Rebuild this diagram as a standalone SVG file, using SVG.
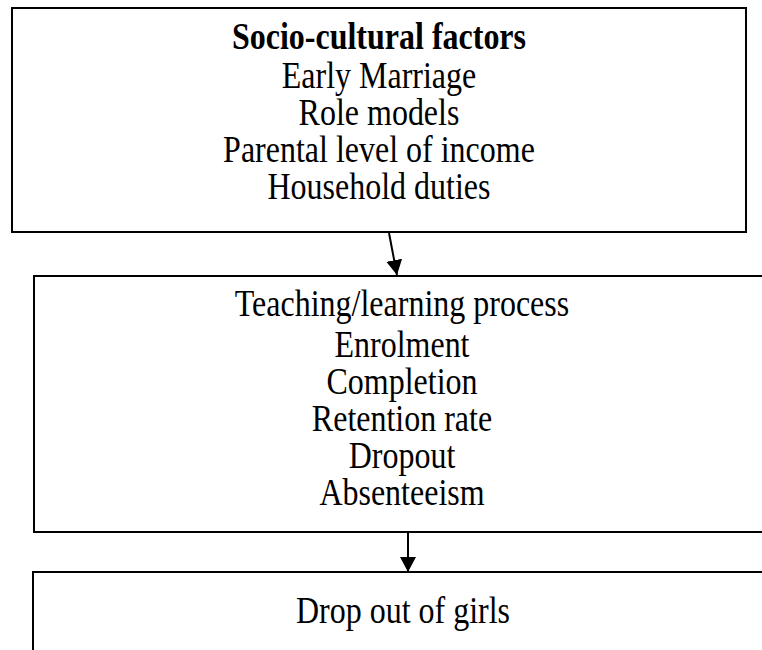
<svg xmlns="http://www.w3.org/2000/svg" width="762" height="650" viewBox="0 0 762 650">
  <style>
    .box { fill: #ffffff; stroke: #000000; stroke-width: 2; }
    .t { font-family: "Liberation Serif", "Times New Roman", serif; font-size: 32px; fill: #000000; text-anchor: middle; }
    .b { font-weight: bold; }
    .conn { stroke: #000000; stroke-width: 2; fill: none; marker-end: url(#arrow); }
  </style>
  <defs>
    <marker id="arrow" viewBox="0 0 15 16" refX="15" refY="8" markerWidth="15" markerHeight="16" markerUnits="userSpaceOnUse" orient="auto">
      <path d="M0,0 L15,8 L0,16 z" fill="#000000"/>
    </marker>
  </defs>
  <rect width="762" height="650" fill="#ffffff"/>
  <g id="socio-cultural">
    <rect class="box" x="12" y="8" width="734" height="224"/>
    <text class="t b" transform="matrix(1 0 0 1.18 379 49)">Socio-cultural factors</text>
    <text class="t" transform="matrix(1 0 0 1.18 379 88)">Early Marriage</text>
    <text class="t" transform="matrix(1 0 0 1.18 379 125)">Role models</text>
    <text class="t" transform="matrix(1 0 0 1.18 379 162)">Parental level of income</text>
    <text class="t" transform="matrix(1 0 0 1.18 379 199)">Household duties</text>
  </g>
  <g id="teaching-learning">
    <rect class="box" x="34" y="276" width="740" height="256"/>
    <text class="t" transform="matrix(1 0 0 1.18 402 316)">Teaching/learning process</text>
    <text class="t" transform="matrix(1 0 0 1.18 402 357)">Enrolment</text>
    <text class="t" transform="matrix(1 0 0 1.18 402 394)">Completion</text>
    <text class="t" transform="matrix(1 0 0 1.18 402 431)">Retention rate</text>
    <text class="t" transform="matrix(1 0 0 1.18 402 468)">Dropout</text>
    <text class="t" transform="matrix(1 0 0 1.18 402 505)">Absenteeism</text>
  </g>
  <g id="dropout-girls">
    <rect class="box" x="33" y="572" width="740" height="100"/>
    <text class="t" transform="matrix(1 0 0 1.18 403 623)">Drop out of girls</text>
  </g>
  <g id="connectors">
    <line class="conn" x1="389" y1="233" x2="397" y2="275"/>
    <line class="conn" x1="408" y1="533" x2="408" y2="572"/>
  </g>
</svg>
